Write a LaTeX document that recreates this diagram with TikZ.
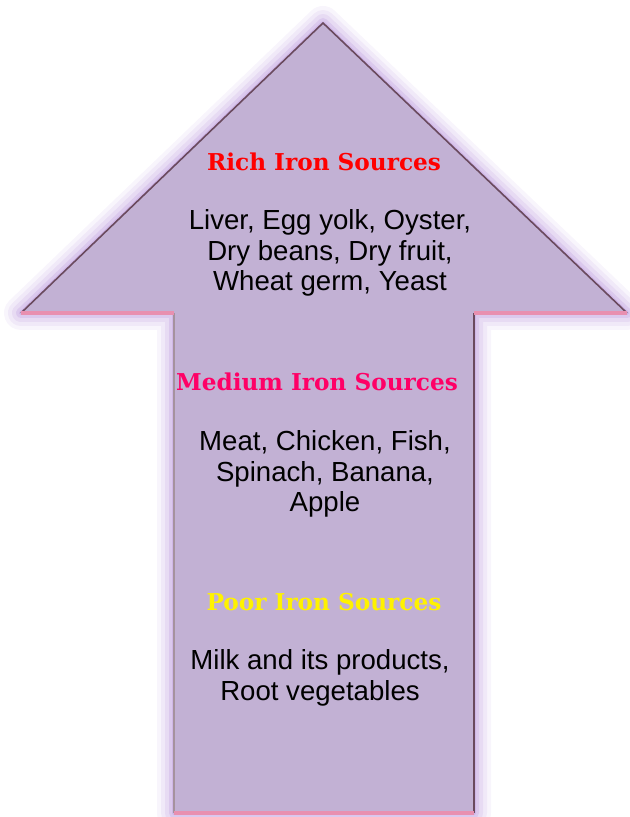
\documentclass[tikz,border=0pt]{standalone}
\usepackage{fontspec}
\setmainfont{Liberation Sans}
\newfontfamily\headfont{DejaVu Serif}
\definecolor{arrowfill}{HTML}{C2B1D4}
\definecolor{glowcol}{HTML}{A070D0}
\definecolor{bevelpink}{HTML}{E890B0}
\definecolor{beveldark}{HTML}{6A4A5E}
\definecolor{mediumcol}{HTML}{FF0066}
\begin{document}
\begin{tikzpicture}[x=0.5pt, y=-0.5pt,
    heading/.style={font=\headfont\bfseries\fontsize{11.6}{13}\selectfont},
    items/.style={align=center, font=\fontsize{13.8}{15.3}\selectfont}]
    \useasboundingbox (0,0) rectangle (629,817);
    % Arrow outline
    \coordinate (tip) at (323,23);
    \coordinate (hr) at (627,313);
    \coordinate (ir) at (474,313);
    \coordinate (br) at (474,813);
    \coordinate (bl) at (174,813);
    \coordinate (il) at (174,313);
    \coordinate (hl) at (21,313);
    % Glow
    \foreach \w/\o in {34/0.07, 26/0.09, 18/0.12, 10/0.16, 4/0.2}
        \draw[glowcol, line width=\w*0.5pt, opacity=\o, line join=round]
            (tip) -- (hr) -- (ir) -- (br) -- (bl) -- (il) -- (hl) -- cycle;
    \fill[arrowfill] (tip) -- (hr) -- (ir) -- (br) -- (bl) -- (il) -- (hl) -- cycle;
    % Bevel edges
    \draw[beveldark, line width=0.8pt] (hl) -- (tip) -- (hr);
    \draw[beveldark, line width=1.2pt] (ir) -- (br);
    \draw[beveldark!60, line width=1.2pt] (il) -- (bl);
    \draw[bevelpink, line width=2pt] (hl) -- (il);
    \draw[bevelpink, line width=2pt] (hr) -- (ir);
    \draw[bevelpink, line width=2pt] (bl) -- (br);
    % Nodes
    \node[heading, text=red] (rich) at (324,162) {Rich Iron Sources};
    \node[items] (richlist) at (330,253) {Liver, Egg yolk, Oyster,\\Dry beans, Dry fruit,\\Wheat germ, Yeast};
    \node[heading, text=mediumcol] (medium) at (317,382) {Medium Iron Sources};
    \node[items] (mediumlist) at (325,474) {Meat, Chicken, Fish,\\Spinach, Banana,\\Apple};
    \node[heading, text=yellow] (poor) at (324,602) {Poor Iron Sources};
    \node[items] (poorlist) at (320,678) {Milk and its products,\\Root vegetables};
\end{tikzpicture}
\end{document}
